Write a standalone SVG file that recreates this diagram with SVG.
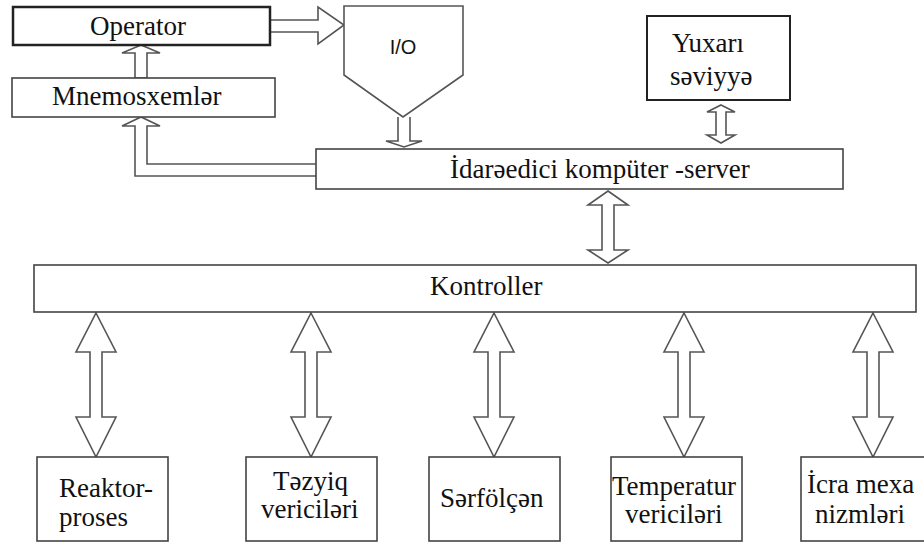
<svg xmlns="http://www.w3.org/2000/svg" width="924" height="543" viewBox="0 0 924 543">
<style>
.box{fill:#fff;stroke:#444;stroke-width:1.6}
.arr{fill:#fff;stroke:#555;stroke-width:1.6;stroke-linejoin:miter}
.t{font-size:27px;fill:#111}
.s{font-size:20px;fill:#111}
</style>
<rect width="924" height="543" fill="#fff"/>
<g id="connectors">
<polygon class="arr" points="141,45 160,53 147,53 147,78 135,78 135,53 122,53"/>
<polyline class="arr" points="316,164 147,164 147,126 160,126 141,117 122,126 135,126 135,176 316,176"/>
<polyline class="arr" points="270,20 318,20 318,7 344,25 318,44 318,32 270,32"/>
<polyline class="arr" points="398,117 398,141 386,141 404,147 422,141 410,141 410,117"/>
<polygon class="arr" points="721,105 735,112 726,112 726,135 735,135 721,143 707,135 716,135 716,112 707,112"/>
<polygon class="arr" points="608,191 628,205 614,205 614,250 628,250 608,263 588,250 602,250 602,205 588,205"/>
<polygon class="arr" points="96,313 116,352 102,352 102,417 116,417 96,457 76,417 90,417 90,352 76,352"/>
<polygon class="arr" points="311,313 331,352 317,352 317,417 331,417 311,457 291,417 305,417 305,352 291,352"/>
<polygon class="arr" points="494,313 514,352 500,352 500,417 514,417 494,457 474,417 488,417 488,352 474,352"/>
<polygon class="arr" points="684,313 704,352 690,352 690,417 704,417 684,457 664,417 678,417 678,352 664,352"/>
<polygon class="arr" points="873,313 893,352 879,352 879,417 893,417 873,457 853,417 867,417 867,352 853,352"/>
</g>
<g font-family="'Liberation Serif', 'DejaVu Serif', serif">
<g id="operator">
<rect x="13" y="7" width="257" height="38" fill="#fff" stroke="#222" stroke-width="2.5"/>
<text class="t" x="90" y="35">Operator</text>
</g>
<g id="mnemosxemler">
<rect class="box" x="12" y="78" width="263" height="39"/>
<text class="t" x="52" y="105">Mnemosxemlər</text>
</g>
<g id="io">
<polygon class="arr" points="344,6 463,6 463,75 403,117 344,75"/>
<text class="s" x="403" y="54" text-anchor="middle" font-family="'Liberation Sans', Arial, sans-serif">I/O</text>
</g>
<g id="yuxari">
<rect x="647" y="16" width="143" height="84" fill="#fff" stroke="#222" stroke-width="2"/>
<text class="t" x="672" y="52">Yuxarı</text>
<text class="t" x="670" y="85">səviyyə</text>
</g>
<g id="server">
<rect class="box" x="316" y="149" width="527" height="40"/>
<text class="t" x="450" y="178">İdarəedici kompüter -server</text>
</g>
<g id="kontroller">
<rect class="box" x="34" y="265" width="882" height="47"/>
<text class="t" x="430" y="295">Kontroller</text>
</g>
<g id="reaktor">
<rect class="box" x="37" y="457" width="131" height="84"/>
<text class="t" x="59" y="497">Reaktor-</text>
<text class="t" x="59" y="526">proses</text>
</g>
<g id="tezyiq">
<rect class="box" x="246" y="457" width="131" height="84"/>
<text class="t" x="273" y="490">Təzyiq</text>
<text class="t" x="261" y="518">vericiləri</text>
</g>
<g id="serfolcen">
<rect class="box" x="429" y="457" width="131" height="84"/>
<text class="t" x="440" y="507">Sərfölçən</text>
</g>
<g id="temperatur">
<rect class="box" x="611" y="457" width="131" height="84"/>
<text class="t" x="612" y="495">Temperatur</text>
<text class="t" x="625" y="523">vericiləri</text>
</g>
<g id="icra">
<rect class="box" x="801" y="457" width="130" height="84"/>
<text class="t" x="807" y="493">İcra mexa</text>
<text class="t" x="815" y="523">nizmləri</text>
</g>
</g>
</svg>
